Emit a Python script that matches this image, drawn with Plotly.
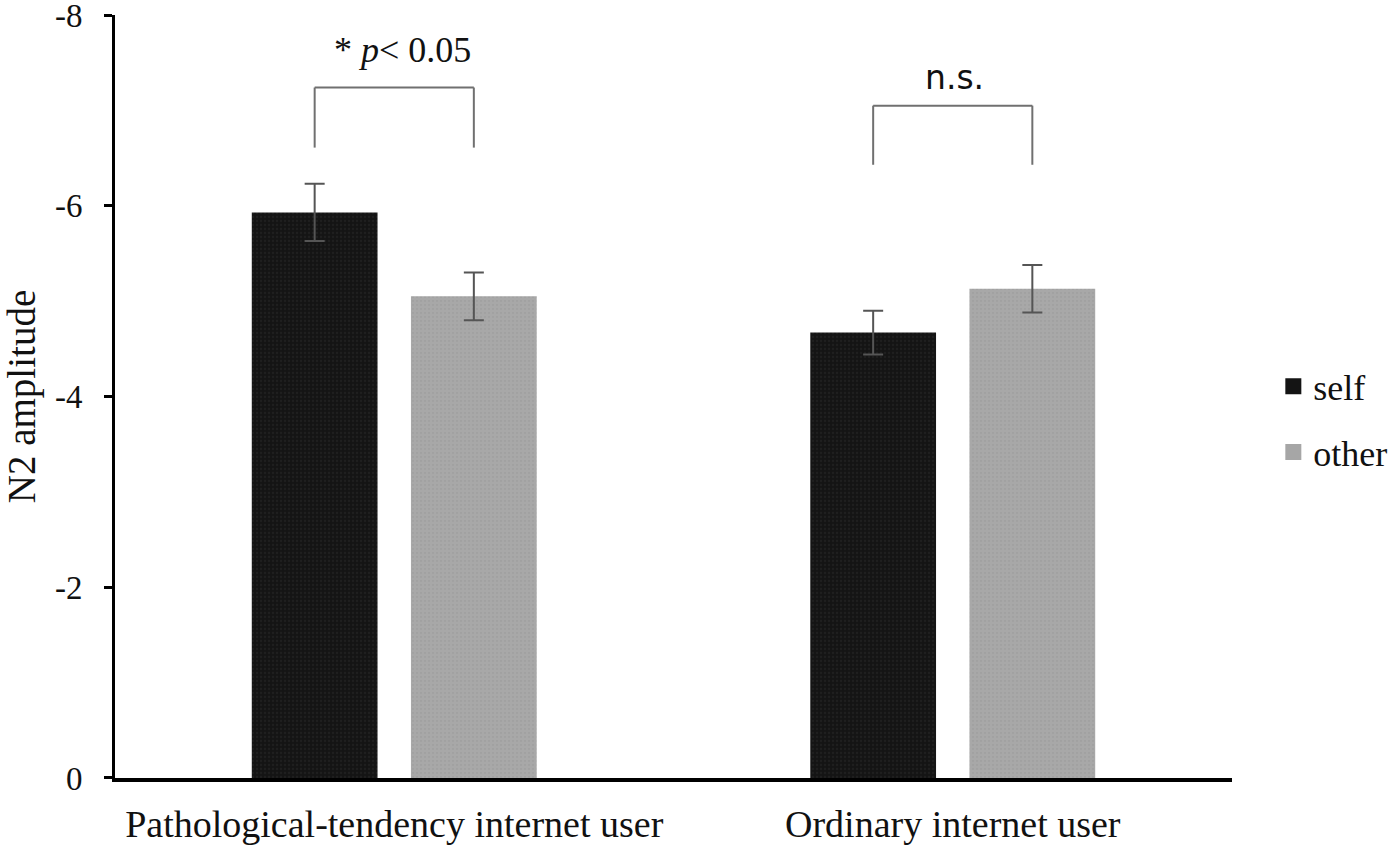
import plotly.graph_objects as go

categories = ["Pathological-tendency internet user", "Ordinary internet user"]
self_vals = [-5.93, -4.67]
self_err = [0.30, 0.23]
other_vals = [-5.05, -5.13]
other_err = [0.25, 0.25]
tick_vals = [0, -2, -4, -6, -8]
tick_text = ["0", "-2", "-4", "-6", "-8"]
# significance brackets per category
bracket_tops = [-7.24, -7.05]
bracket_bottoms = [-6.61, -6.43]
bracket_labels = ["* <i>p</i>< 0.05", "n.s."]
label_levels = [-7.63, -7.35]

self_color = "#141414"
other_color = "#a6a6a6"

bargap = 0.43
bargroupgap = 0.21
offset = (1 - bargap) / 4

fig = go.Figure()
fig.add_trace(go.Bar(
    name="self", x=categories, y=self_vals, showlegend=False,
    marker=dict(color=self_color, line=dict(width=0),
                pattern=dict(shape=".", fgcolor="#2a2a2a", bgcolor=self_color, size=4, solidity=0.25)),
    error_y=dict(type="data", array=self_err, visible=True, color="#555555", thickness=2, width=10),
))
fig.add_trace(go.Bar(
    name="other", x=categories, y=other_vals, showlegend=False,
    marker=dict(color=other_color, line=dict(width=0),
                pattern=dict(shape=".", fgcolor="#999999", bgcolor="#a8a8a8", size=4, solidity=0.25)),
    error_y=dict(type="data", array=other_err, visible=True, color="#555555", thickness=2, width=10),
))
# legend entries with larger square swatches
for nm, col, grp in [("self", self_color, "a"), ("other", other_color, "b")]:
    fig.add_trace(go.Scatter(name=nm, x=[None], y=[None], mode="markers", legendgroup=grp,
                             marker=dict(symbol="square", size=18, color=col)))

for i in range(len(categories)):
    x0, x1 = i - offset, i + offset
    for (xa, ya, xb, yb) in [(x0, bracket_bottoms[i], x0, bracket_tops[i]),
                             (x0, bracket_tops[i], x1, bracket_tops[i]),
                             (x1, bracket_tops[i], x1, bracket_bottoms[i])]:
        fig.add_shape(type="line", xref="x", yref="y", x0=xa, y0=ya, x1=xb, y1=yb,
                      line=dict(color="#707070", width=2))
    fig.add_annotation(x=i, y=label_levels[i], xref="x", yref="y", text=bracket_labels[i],
                       showarrow=False, xshift=8 if i == 0 else 2,
                       font=dict(family="Liberation Serif" if i == 0 else "DejaVu Sans",
                                 size=36 if i == 0 else 33, color="#111111"))

fig.update_layout(
    width=1391, height=845,
    margin=dict(l=115, r=159, t=15, b=67, autoexpand=False),
    paper_bgcolor="white", plot_bgcolor="white",
    barmode="group", bargap=bargap, bargroupgap=bargroupgap,
    font=dict(family="Liberation Serif", color="#111111"),
    showlegend=True,
    legend=dict(x=1.037, y=0.47, xanchor="left", yanchor="middle",
                font=dict(size=36, family="Liberation Serif"),
                tracegroupgap=16, traceorder="grouped", itemwidth=30),
    xaxis=dict(type="category", showline=True, linecolor="black", linewidth=4,
               ticks="", tickfont=dict(size=38, family="Liberation Serif"),
               ticklabelstandoff=9, showgrid=False, zeroline=False, automargin=False),
    yaxis=dict(range=[0.0005, -8.0005], tickvals=tick_vals, ticktext=tick_text,
               showline=True, linecolor="black", linewidth=3,
               ticks="outside", ticklen=8, tickwidth=3, tickcolor="black",
               tickfont=dict(size=33, family="Liberation Serif"),
               ticklabelstandoff=15, ticklabeloverflow="allow",
               showgrid=False, zeroline=False, automargin=False,
               title=dict(text="N2 amplitude", font=dict(size=39, family="Liberation Serif"), standoff=16)),
)

fig.write_html("out.html", config={"displayModeBar": False},
               post_script="document.body.style.margin='0';")
